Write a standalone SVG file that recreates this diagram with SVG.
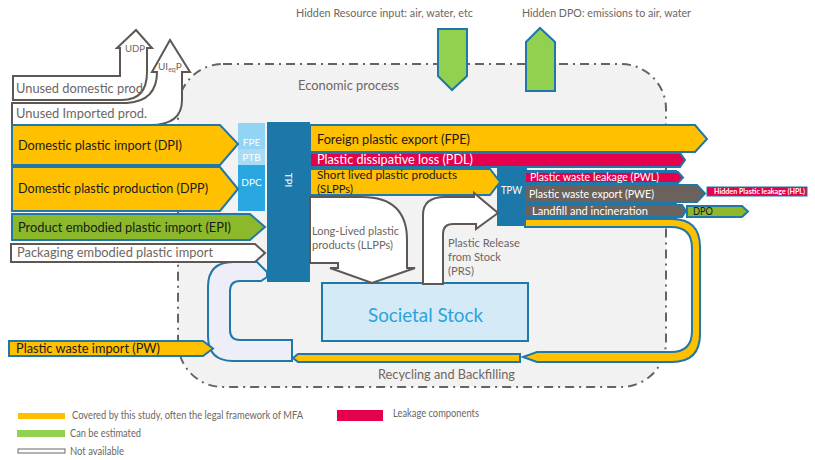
<svg xmlns="http://www.w3.org/2000/svg" width="815" height="460" viewBox="0 0 815 460">
<style>
text{font-family:Lato,"Liberation Sans",sans-serif}
.gr{fill:#6e6661}
.dk{fill:#1a1a1a}
.wh{fill:#ffffff}
.or{fill:#ffc000;stroke:#1f77aa;stroke-width:2;stroke-linejoin:miter}
.rd{fill:#e4004c;stroke:#1f77aa;stroke-width:2}
.gy{fill:#6b625d;stroke:#1f77aa;stroke-width:2}
.gn{fill:#92d050;stroke:#1f77aa;stroke-width:2}
.ep{fill:#8cb82b;stroke:#1f77aa;stroke-width:2}
.na{fill:#ffffff;stroke:#5f5754;stroke-width:2}
.lv{fill:#eeeef8;stroke:#1f77aa;stroke-width:2}
.node{fill:#1b78a8}
</style>
<rect width="815" height="460" fill="#ffffff"/>
<g id="economic-process">
<rect x="178" y="64" width="488" height="323" rx="45" ry="45" fill="#f2f2f2" stroke="#6b625d" stroke-width="2" stroke-dasharray="9 5 2 5"/>
<text x="298" y="90" font-size="14" class="gr" textLength="101" lengthAdjust="spacingAndGlyphs">Economic process</text>
<text x="378" y="379" font-size="13" class="gr" textLength="137" lengthAdjust="spacingAndGlyphs">Recycling and Backfilling</text>
</g>
<g id="node-input-block">
<rect x="238" y="123" width="27" height="26" fill="#92d4f4"/>
<rect x="238" y="149" width="27" height="16" fill="#a8dcf4"/>
<rect x="238" y="165" width="27" height="46" fill="#2aa7e0"/>
<text x="251.5" y="146" font-size="10" class="wh" text-anchor="middle">FPE</text>
<text x="251.5" y="161" font-size="10" class="wh" text-anchor="middle">PTB</text>
<text x="251.5" y="186" font-size="10" class="wh" text-anchor="middle">DPC</text>
</g>
<g id="node-tpi">
<rect x="267" y="122" width="43" height="160" class="node"/>
<text transform="translate(285,180) rotate(90)" font-size="10" class="wh" text-anchor="middle">TPI</text>
</g>
<g id="node-tpw">
<rect x="497" y="168" width="30" height="58" class="node"/>
<rect x="525" y="170" width="152" height="52" class="node"/>
<text x="501" y="194" font-size="11" class="wh" textLength="21" lengthAdjust="spacingAndGlyphs">TPW</text>
</g>
<g id="node-societal-stock">
<rect x="322" y="283" width="206" height="58" fill="#d5eaf7" stroke="#1f77aa" stroke-width="2"/>
<text x="368" y="322" font-size="20" fill="#2aa3dc" textLength="115" lengthAdjust="spacingAndGlyphs">Societal Stock</text>
</g>
<g id="connectors">
<path class="na" d="M13,76 L120,76 L120,48 L117,48 L136,30 L152,48 L147,48 L147,72 Q147,100 122,100 L13,100 Z"/>
<path class="na" d="M12,103 L127,103 Q157,101 157,72 L152,72 L170,40 L190,72 L182,72 L182,100 Q182,125 150,125 L12,125 Z"/>
<text x="16" y="93" font-size="13" class="gr" textLength="127" lengthAdjust="spacingAndGlyphs">Unused domestic prod</text>
<text x="16" y="118" font-size="13" class="gr" textLength="131" lengthAdjust="spacingAndGlyphs">Unused Imported prod.</text>
<text x="125" y="52" font-size="10" class="gr" textLength="20" lengthAdjust="spacingAndGlyphs">UDP</text>
<text x="158" y="70" font-size="10" class="gr">UI<tspan font-size="7" dy="2">eq</tspan><tspan dy="-2">P</tspan></text>
<polygon class="gn" points="438,29 467,29 467,76 452,90 438,76"/>
<polygon class="gn" points="526,91 526,42 540,28 555,42 555,91"/>
<text x="296" y="17" font-size="11" class="gr" textLength="177" lengthAdjust="spacingAndGlyphs">Hidden Resource input: air, water, etc</text>
<text x="522" y="17" font-size="11" class="gr" textLength="169" lengthAdjust="spacingAndGlyphs">Hidden DPO: emissions to air, water</text>
<path class="lv" d="M267,272 L257,262 L233,262 Q208,262 208,287 L208,336 Q208,361 233,361 L292,361 L292,340 L240,340 Q230,340 230,330 L230,291 Q230,281 240,281 L261,281 L267,277 Z"/>
<polygon class="or" points="12,125 220,125 238,144 220,165 12,165"/>
<text x="18" y="150" font-size="13.5" class="dk" textLength="164" lengthAdjust="spacingAndGlyphs">Domestic plastic import (DPI)</text>
<polygon class="or" points="12,167 220,167 238,189 220,211 12,211"/>
<text x="18" y="193" font-size="13.5" class="dk" textLength="190" lengthAdjust="spacingAndGlyphs">Domestic plastic production (DPP)</text>
<polygon class="ep" points="12,214 250,214 265,227 250,240 12,240"/>
<text x="18" y="232" font-size="13.5" class="dk" textLength="213" lengthAdjust="spacingAndGlyphs">Product embodied plastic import (EPI)</text>
<polygon class="na" points="11,244 255,244 265,253 255,262 11,262"/>
<text x="17" y="257" font-size="13.5" class="gr" textLength="196" lengthAdjust="spacingAndGlyphs">Packaging embodied plastic import</text>
<polygon class="or" points="9,341 203,341 213,348.5 203,356 9,356"/>
<text x="16" y="353" font-size="13" class="dk" textLength="144" lengthAdjust="spacingAndGlyphs">Plastic waste import (PW)</text>
<polygon class="or" points="310,125 695,125 707,139 695,152 310,152"/>
<text x="317" y="144" font-size="13.5" class="dk" textLength="153" lengthAdjust="spacingAndGlyphs">Foreign plastic export (FPE)</text>
<polygon class="rd" points="310,153 680,153 685,160 680,167 310,167"/>
<text x="317" y="164" font-size="12.5" class="wh" textLength="156" lengthAdjust="spacingAndGlyphs">Plastic dissipative loss (PDL)</text>
<polygon class="or" points="310,169 490,169 500,182 490,195 310,195"/>
<text x="317" y="179" font-size="12" class="dk" textLength="140" lengthAdjust="spacingAndGlyphs">Short lived plastic products</text>
<text x="317" y="193" font-size="12" class="dk" textLength="36" lengthAdjust="spacingAndGlyphs">(SLPPs)</text>
<path class="na" d="M310,197 L362,197 Q407,197 407,240 L407,268 L415,268 L372,283 L330,268 L338,268 L338,263 L310,263 Z"/>
<text x="312" y="235" font-size="11.5" class="gr" textLength="87" lengthAdjust="spacingAndGlyphs">Long-Lived plastic</text>
<text x="312" y="249" font-size="11.5" class="gr" textLength="81" lengthAdjust="spacingAndGlyphs">products (LLPPs)</text>
<path class="na" d="M423,284 L423,215 Q423,197 445,197 L474,197 L474,193 L498,213 L476,229 L476,224 L453,224 Q443,224 443,234 L443,284 Z"/>
<text x="448" y="247" font-size="12" class="gr" textLength="72" lengthAdjust="spacingAndGlyphs">Plastic Release</text>
<text x="448" y="261" font-size="12" class="gr" textLength="53" lengthAdjust="spacingAndGlyphs">from Stock</text>
<text x="448" y="275" font-size="12" class="gr" textLength="26" lengthAdjust="spacingAndGlyphs">(PRS)</text>
<polygon class="rd" points="525,172 678,172 683,177.5 678,183 525,183"/>
<text x="530" y="181" font-size="11.5" class="wh" textLength="129" lengthAdjust="spacingAndGlyphs">Plastic waste leakage (PWL)</text>
<polygon class="gy" points="525,185 697,185 705,193.5 697,202 525,202"/>
<text x="529" y="198" font-size="12" class="wh" textLength="125" lengthAdjust="spacingAndGlyphs">Plastic waste export (PWE)</text>
<rect x="707" y="187" width="100" height="9" fill="#e4004c" stroke="#1f77aa" stroke-width="1"/>
<text x="714" y="194" font-size="7.5" font-weight="bold" class="wh" textLength="91" lengthAdjust="spacingAndGlyphs">Hidden Plastic leakage (HPL)</text>
<polygon class="gy" points="525,205 682,205 686,211 682,217 525,217"/>
<text x="532" y="215" font-size="12" class="wh" textLength="116" lengthAdjust="spacingAndGlyphs">Landfill and incineration</text>
<polygon class="ep" points="687,206 742,206 748,211.5 742,217 687,217"/>
<text x="693" y="215" font-size="11" class="dk" textLength="20" lengthAdjust="spacingAndGlyphs">DPO</text>
<path class="or" d="M525,219 L672,219 Q700,219 700,247 L700,334 Q700,362 672,362 L537,362 L523,357 L537,352 L671,352 Q692,352 692,331 L692,248 Q692,227 671,227 L525,227 Z"/>
<polygon class="or" stroke-width="1.5" points="520,354 298,354 293,358 298,362 520,362"/>
</g>
<g id="legend">
<rect x="18" y="413" width="47" height="6" fill="#ffc000"/>
<text x="72" y="419" font-size="11" class="gr" textLength="231" lengthAdjust="spacingAndGlyphs">Covered by this study, often the legal framework of MFA</text>
<rect x="17" y="430" width="48" height="7" fill="#92d050"/>
<text x="70" y="437" font-size="11" class="gr" textLength="71" lengthAdjust="spacingAndGlyphs">Can be estimated</text>
<rect x="18" y="449" width="47" height="4" fill="#ffffff" stroke="#6e6661" stroke-width="1"/>
<text x="70" y="455" font-size="11" class="gr" textLength="54" lengthAdjust="spacingAndGlyphs">Not available</text>
<rect x="337" y="410" width="46" height="11" fill="#e4004c"/>
<text x="393" y="417" font-size="11" class="gr" textLength="86" lengthAdjust="spacingAndGlyphs">Leakage components</text>
</g>
</svg>
